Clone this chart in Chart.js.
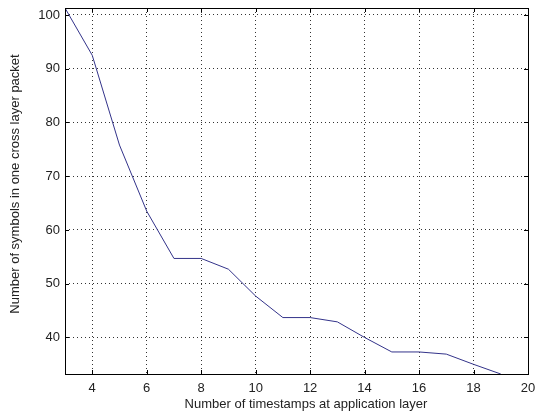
<!DOCTYPE html>
<html>
<head>
<meta charset="utf-8">
<script src="https://cdn.jsdelivr.net/npm/chart.js@4"></script>
<style>
  html, body { margin: 0; padding: 0; background: #fff; }
  #wrap { width: 542px; height: 412px; }
</style>
</head>
<body>
<div id="wrap"><canvas id="chartSymbols" width="542" height="412"></canvas></div>
<script>
// values
const timestamps = [3, 4, 5, 6, 7, 8, 9, 10, 11, 12, 13, 14, 15, 16, 17, 18, 19];
const symbols = [101.3, 92.5, 75.8, 63.5, 54.7, 54.7, 52.7, 47.7, 43.7, 43.7, 42.9, 40.0, 37.3, 37.3, 36.9, 35.0, 33.2];
const xTicks = [4, 6, 8, 10, 12, 14, 16, 18, 20];
const yTicks = [40, 50, 60, 70, 80, 90, 100];
const xLabel = "Number of timestamps at application layer";
const yLabel = "Number of symbols in one cross layer packet";

const points = timestamps.map((t, i) => ({ x: t, y: symbols[i] }));

// matlab style frame with ticks pointing inward, plus axis labels
const frameTicks = {
  id: "frameTicks",
  afterDraw(chart) {
    const { ctx, chartArea: a, scales } = chart;
    const len = 4;
    ctx.save();
    ctx.strokeStyle = "#000";
    ctx.lineWidth = 1;
    ctx.beginPath();
    xTicks.forEach(v => {
      const px = Math.round(scales.x.getPixelForValue(v)) + 0.5;
      ctx.moveTo(px, a.bottom); ctx.lineTo(px, a.bottom - len);
      ctx.moveTo(px, a.top); ctx.lineTo(px, a.top + len);
    });
    yTicks.forEach(v => {
      const py = Math.round(scales.y.getPixelForValue(v)) + 0.5;
      ctx.moveTo(a.left, py); ctx.lineTo(a.left + len, py);
      ctx.moveTo(a.right, py); ctx.lineTo(a.right - len, py);
    });
    ctx.stroke();
    ctx.strokeRect(Math.round(a.left) + 0.5, Math.round(a.top) + 0.5,
      Math.round(a.right - a.left), Math.round(a.bottom - a.top));

    ctx.fillStyle = "#222";
    ctx.font = "13px 'Liberation Sans'";
    ctx.textAlign = "center";
    ctx.textBaseline = "middle";
    ctx.fillText(xLabel, 306, 404);
    ctx.translate(15, 184);
    ctx.rotate(-Math.PI / 2);
    ctx.fillText(yLabel, 0, 0);
    ctx.restore();
  }
};

const ctx = document.getElementById("chartSymbols").getContext("2d");
new Chart(ctx, {
  type: "line",
  data: {
    datasets: [{
      data: points,
      borderColor: "#33338a",
      borderWidth: 1,
      pointRadius: 0,
      tension: 0,
      fill: false
    }]
  },
  options: {
    responsive: false,
    animation: false,
    layout: { padding: { left: 0, top: 8, right: 14, bottom: 0 } },
    plugins: {
      legend: { display: false },
      tooltip: { enabled: false }
    },
    scales: {
      x: {
        type: "linear",
        min: 3,
        max: 20,
        afterBuildTicks: s => { s.ticks = xTicks.map(v => ({ value: v })); },
        afterFit: s => { s.height = 38; s.paddingLeft = 0; s.paddingRight = 0; },
        grid: { color: "#333", lineWidth: 1, drawTicks: false },
        border: { display: false, dash: [1, 3] },
        ticks: {
          color: "#222",
          font: { family: "Liberation Sans", size: 13 },
          padding: 7,
          maxRotation: 0
        }
      },
      y: {
        type: "linear",
        min: 33.2,
        max: 101.3,
        afterBuildTicks: s => { s.ticks = yTicks.map(v => ({ value: v })); },
        afterFit: s => { s.width = 65; s.paddingTop = 0; s.paddingBottom = 0; },
        grid: { color: "#333", lineWidth: 1, drawTicks: false },
        border: { display: false, dash: [1, 3] },
        ticks: {
          color: "#222",
          font: { family: "Liberation Sans", size: 13 },
          padding: 5
        }
      }
    }
  },
  plugins: [frameTicks]
});
</script>
</body>
</html>
